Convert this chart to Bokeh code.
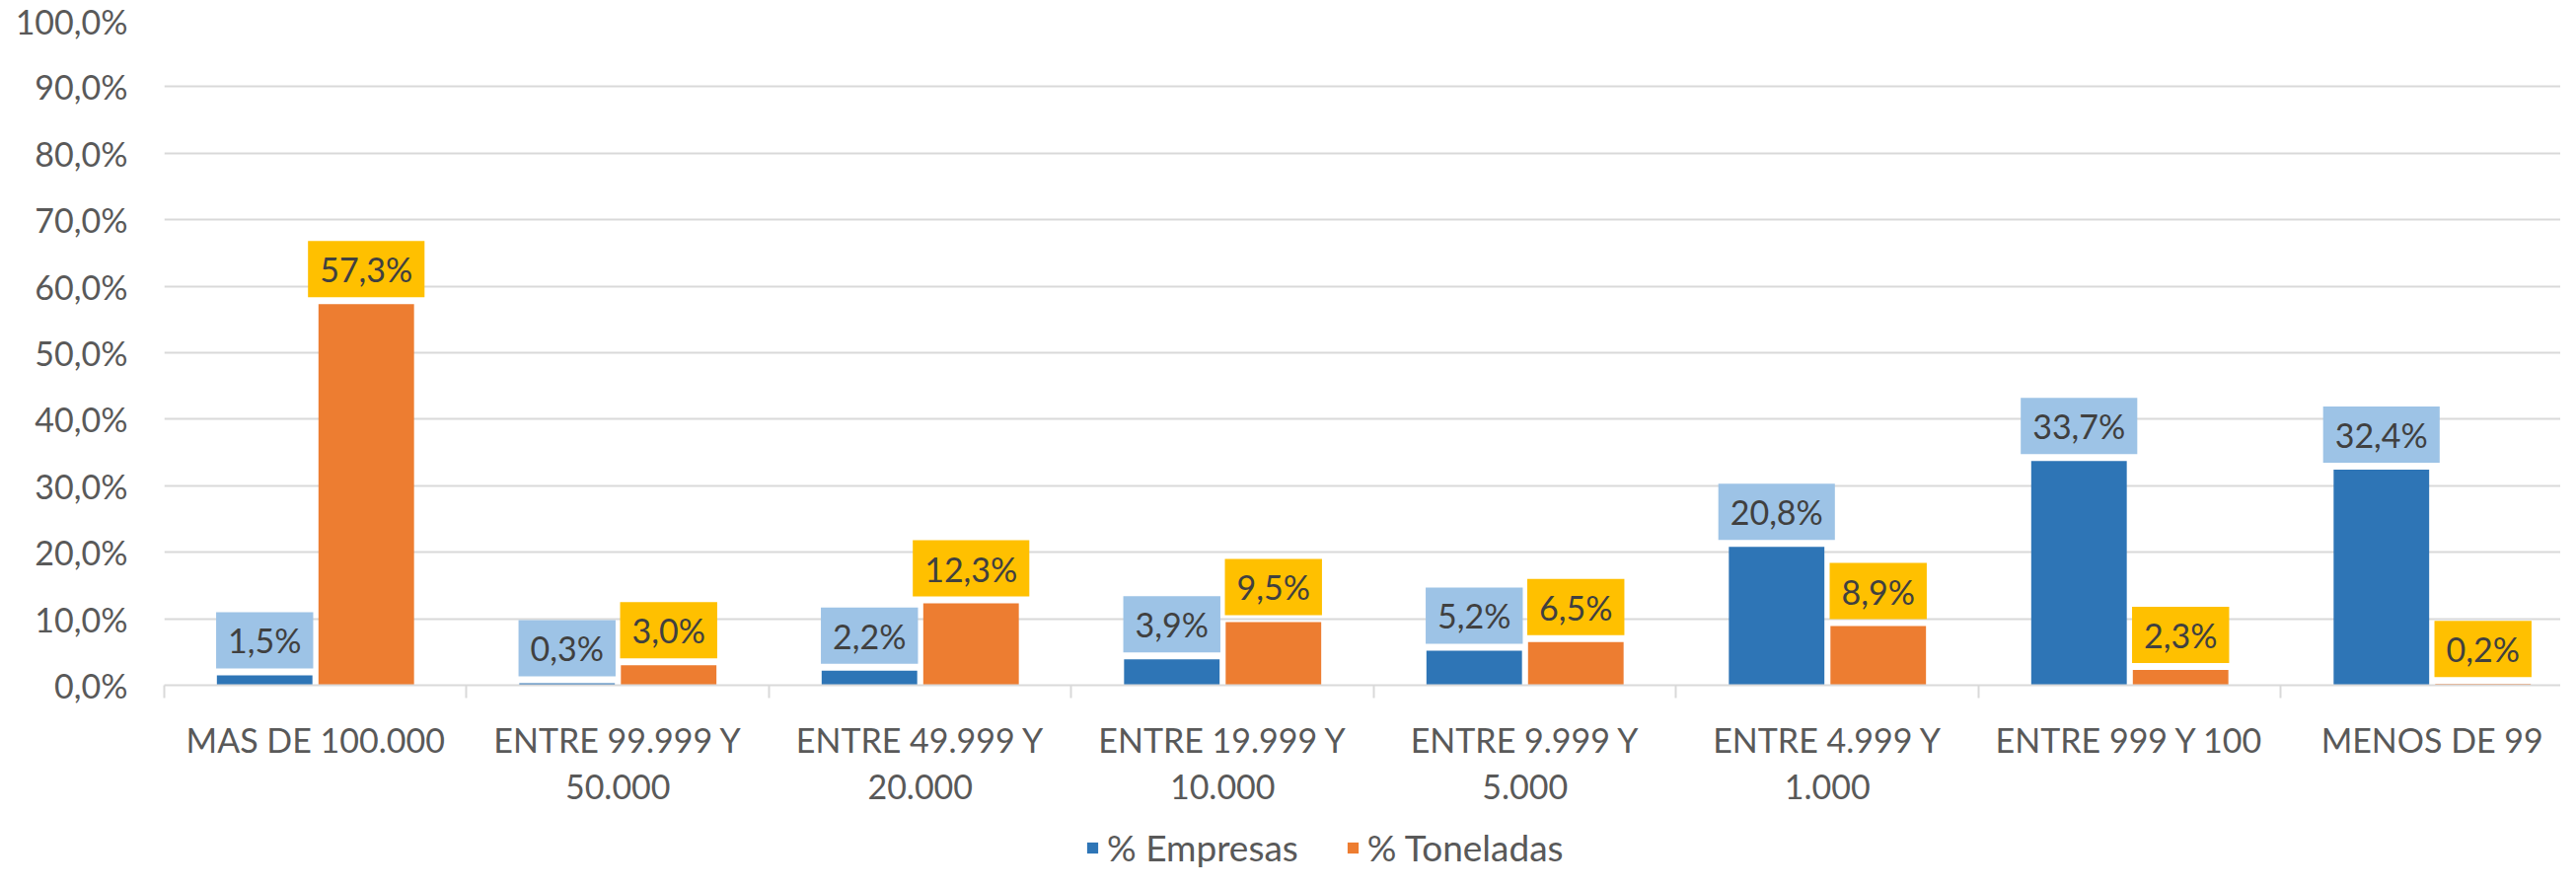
from bokeh.plotting import figure
from bokeh.layouts import column
from bokeh.models import Range1d, FixedTicker, Legend, LegendItem, ColumnDataSource
from bokeh.embed import file_html
from bokeh.resources import INLINE
from bokeh.core.properties import value
import numpy as np

categories = ["MAS DE 100.000", "ENTRE 99.999 Y\n50.000", "ENTRE 49.999 Y\n20.000",
              "ENTRE 19.999 Y\n10.000", "ENTRE 9.999 Y\n5.000", "ENTRE 4.999 Y\n1.000",
              "ENTRE 999 Y 100", "MENOS DE 99"]
empresas = [1.5, 0.3, 2.2, 3.9, 5.2, 20.8, 33.7, 32.4]
toneladas = [57.3, 3.0, 12.3, 9.5, 6.5, 8.9, 2.3, 0.2]
y_ticks = [0, 10, 20, 30, 40, 50, 60, 70, 80, 90, 100]
y_tick_labels = ["0,0%", "10,0%", "20,0%", "30,0%", "40,0%", "50,0%",
                 "60,0%", "70,0%", "80,0%", "90,0%", "100,0%"]
series_names = ["% Empresas", "% Toneladas"]

FONT = "Lato"
AXIS_COLOR = "#595959"
LABEL_COLOR = "#404040"
BLUE, ORANGE = "#2E75B6", "#ED7D31"
BLUE_BOX, ORANGE_BOX = "#9DC3E6", "#FFC000"

def fmt(v):
    return f"{v:.1f}".replace(".", ",") + "%"

idx = np.arange(len(categories))
off = 0.168
bw = 0.316

src_e = ColumnDataSource(dict(x=idx - off, top=empresas, lab=[fmt(v) for v in empresas]))
src_t = ColumnDataSource(dict(x=idx + off, top=toneladas, lab=[fmt(v) for v in toneladas]))

p = figure(width=2595, height=830, x_range=Range1d(-0.5, 7.425), y_range=Range1d(0, 100),
           output_backend="svg", toolbar_location=None,
           min_border_left=166, min_border_right=0, min_border_top=20, min_border_bottom=136)
p.outline_line_color = None
p.background_fill_color = "white"
p.border_fill_color = "white"

p.xgrid.visible = False
p.ygrid.grid_line_color = "#D9D9D9"
p.ygrid.grid_line_width = 2
p.ygrid.ticker = FixedTicker(ticks=y_ticks)

# y axis
p.yaxis.ticker = FixedTicker(ticks=y_ticks)
p.yaxis.major_label_overrides = {t: l for t, l in zip(y_ticks, y_tick_labels)}
p.yaxis.axis_line_color = None
p.yaxis.major_tick_line_color = None
p.yaxis.minor_tick_line_color = None
p.yaxis.major_tick_out = 0
p.yaxis.major_tick_in = 0
p.yaxis.major_label_standoff = 37
p.yaxis.major_label_text_font = FONT
p.yaxis.major_label_text_font_size = "34px"
p.yaxis.major_label_text_color = AXIS_COLOR

# x axis
p.xaxis.ticker = FixedTicker(ticks=list(idx), minor_ticks=list(np.arange(len(categories) + 1) - 0.5))
p.xaxis.major_label_overrides = {int(i): c for i, c in zip(idx, categories)}
p.xaxis.axis_line_color = "#D9D9D9"
p.xaxis.axis_line_width = 2
p.xaxis.major_tick_line_color = None
p.xaxis.major_tick_out = 13
p.xaxis.major_tick_in = 0
p.xaxis.minor_tick_line_color = "#D9D9D9"
p.xaxis.minor_tick_line_width = 2
p.xaxis.minor_tick_out = 13
p.xaxis.minor_tick_in = 0
p.xaxis.major_label_standoff = 21
p.xaxis.major_label_text_font = FONT
p.xaxis.major_label_text_font_size = "34px"
p.xaxis.major_label_text_color = AXIS_COLOR
p.xaxis.major_label_text_line_height = 1.15

p.vbar(x="x", top="top", width=bw, bottom=0, source=src_e, fill_color=BLUE, line_color=None)
p.vbar(x="x", top="top", width=bw, bottom=0, source=src_t, fill_color=ORANGE, line_color=None)

for src, box in ((src_e, BLUE_BOX), (src_t, ORANGE_BOX)):
    p.text(x="x", y="top", text="lab", source=src, text_align="center", text_baseline="bottom",
           y_offset=-7, text_font=value(FONT), text_font_size="34px", text_color=LABEL_COLOR,
           background_fill_color=box, padding=(12, 8))

# legend strip below the chart (its own bars sit outside its visible range)
pl = figure(width=2595, height=53, x_range=Range1d(-0.5, 7.425), y_range=Range1d(1000, 1001),
            output_backend="svg", toolbar_location=None, min_border=0,
            x_axis_location=None, y_axis_location=None)
pl.grid.visible = False
pl.outline_line_color = None
le = pl.vbar(x="x", top="top", width=bw, bottom=0, source=src_e, fill_color=BLUE, line_color=None)
lt = pl.vbar(x="x", top="top", width=bw, bottom=0, source=src_t, fill_color=ORANGE, line_color=None)
legend = Legend(items=[LegendItem(label=series_names[0], renderers=[le]),
                       LegendItem(label=series_names[1], renderers=[lt])],
                orientation="horizontal", location=(934, 2),
                background_fill_alpha=0, border_line_color=None, padding=0, margin=0,
                spacing=48, label_standoff=8, glyph_width=14, glyph_height=14,
                label_text_font=FONT, label_text_font_size="37px", label_text_color=AXIS_COLOR)
pl.add_layout(legend, "center")

layout = column(p, pl)
open("out.html", "w").write(file_html(layout, INLINE))
